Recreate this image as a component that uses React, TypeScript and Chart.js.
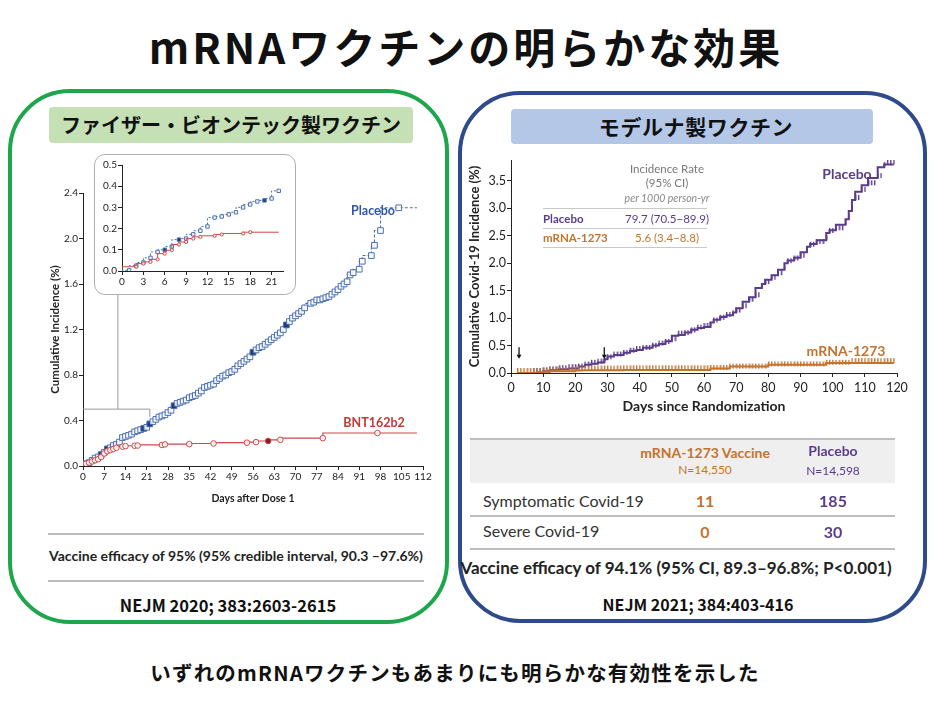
import React, { useEffect, useRef } from 'react';
import { Chart, registerables } from 'chart.js';
Chart.register(...registerables);

const FONT = 'Lato, "Noto Sans", sans-serif';
const JP = '"Noto Sans CJK JP", sans-serif';

// ---------- Pfizer/BioNTech (NEJM 2020) ----------
const pfizerPlacebo: [number, number][] = [
  [1, 0.02], [2, 0.03], [3, 0.05], [4, 0.07], [5, 0.08], [6, 0.10], [7, 0.12], [8, 0.15], [9, 0.16], [10, 0.18],
  [11, 0.19], [12, 0.21], [13, 0.25], [14, 0.26], [15, 0.27], [16, 0.28], [17, 0.30], [18, 0.31], [19, 0.32], [20, 0.33],
  [21, 0.34], [22, 0.37], [23, 0.39], [24, 0.41], [25, 0.43], [26, 0.44], [27, 0.45], [28, 0.47], [29, 0.49], [30, 0.53],
  [31, 0.55], [32, 0.56], [33, 0.57], [34, 0.58], [35, 0.60], [36, 0.61], [37, 0.62], [38, 0.64], [39, 0.66], [40, 0.69],
  [41, 0.70], [42, 0.71], [43, 0.72], [44, 0.75], [45, 0.77], [46, 0.79], [47, 0.80], [48, 0.82], [49, 0.83], [50, 0.85],
  [51, 0.88], [52, 0.90], [53, 0.92], [54, 0.94], [55, 0.96], [56, 1.00], [57, 1.02], [58, 1.04], [59, 1.05], [60, 1.07],
  [61, 1.09], [62, 1.11], [63, 1.13], [64, 1.15], [65, 1.17], [66, 1.20], [67, 1.24], [68, 1.27], [69, 1.30], [70, 1.32],
  [71, 1.34], [72, 1.36], [73, 1.39], [75, 1.43], [76, 1.44], [77, 1.46], [78, 1.46], [79, 1.47], [80, 1.48], [81, 1.49],
  [82, 1.51], [83, 1.53], [84, 1.55], [85, 1.58], [86, 1.60], [87, 1.62], [88, 1.68], [89, 1.70], [91, 1.73], [92, 1.80],
  [95, 1.85], [96, 1.94], [98, 2.07], [104, 2.27],
];
const pfizerVaccine: [number, number][] = [
  [1, 0.02], [2, 0.03], [3, 0.04], [4, 0.05], [5, 0.06], [6, 0.08], [7, 0.11], [8, 0.13], [9, 0.14], [10, 0.15],
  [11, 0.16], [13, 0.17], [14, 0.175], [17, 0.178], [18, 0.18], [26, 0.185], [27, 0.19], [35, 0.192], [43, 0.198],
  [54, 0.205], [57, 0.21], [61, 0.22], [65, 0.23], [79, 0.245], [97, 0.29],
];
const pfizerEndDay = 110;
const pfizerPlaceboSevere = [6, 8, 20, 22, 30, 56, 67];
const pfizerVaccineSevere = [61];

// inset: first 21 days
const insetPlacebo: [number, number][] = [
  [1, 0.003], [2, 0.025], [3, 0.04], [4, 0.062], [5, 0.09], [6, 0.10], [7, 0.115], [8, 0.148], [9, 0.153], [10, 0.173],
  [11, 0.19], [12, 0.21], [13, 0.252], [14, 0.257], [15, 0.267], [16, 0.277], [17, 0.30], [18, 0.314], [19, 0.328],
  [20, 0.333], [21, 0.342], [22, 0.378],
];
const insetVaccine: [number, number][] = [
  [2, 0.02], [3, 0.035], [4, 0.043], [5, 0.055], [6, 0.082], [7, 0.098], [8, 0.125], [9, 0.137], [10, 0.153],
  [11, 0.161], [13, 0.166], [14, 0.172], [17, 0.177], [18, 0.183],
];
const insetEndDay = 22;
const insetPlaceboSevere = [6, 8, 20];
const insetZoomDay = 22;
const insetZoomValue = 0.5;

// ---------- Moderna (NEJM 2021) ----------
const modernaPlacebo: [number, number][] = [
  [2, 0], [8, 0], [10, 0.01], [12, 0.03], [15, 0.05], [18, 0.07], [21, 0.08], [23, 0.12], [25, 0.15], [27, 0.17],
  [29, 0.19], [30, 0.25], [32, 0.30], [35, 0.33], [37, 0.37], [39, 0.40], [41, 0.42], [44, 0.46], [46, 0.50],
  [48, 0.53], [50, 0.58], [52, 0.68], [54, 0.69], [56, 0.74], [58, 0.79], [60, 0.82], [62, 0.84], [63, 0.92],
  [65, 0.97], [67, 1.02], [69, 1.05], [70, 1.10], [72, 1.18], [74, 1.30], [76, 1.38], [78, 1.55], [79, 1.62],
  [81, 1.70], [83, 1.78], [85, 1.88], [86, 2.00], [88, 2.05], [90, 2.10], [92, 2.20], [93, 2.30], [95, 2.35],
  [98, 2.42], [99, 2.55], [101, 2.60], [104, 2.70], [105, 2.80], [106, 2.95], [107, 3.15], [109, 3.30],
  [111, 3.42], [114, 3.55], [116, 3.75], [117, 3.80], [119, 3.80],
];
const modernaVaccine: [number, number][] = [
  [2, 0], [8, 0], [10, 0.01], [12, 0.02], [20, 0.03], [22, 0.045], [35, 0.05], [62, 0.055], [68, 0.08],
  [80, 0.12], [98, 0.15], [106, 0.18], [119, 0.18],
];
const modernaArrowDays = [2.5, 29];

const BLUE = '#4a6fb3';
const BLUE_DARK = '#1d3870';
const RED = '#d04848';
const RED_DARK = '#8a1c1c';
const PURPLE = '#5a3b8c';
const ORANGE = '#c4732f';

const toXY = (a: [number, number][]) => a.map(([x, y]) => ({ x, y }));

function stepAt(series: [number, number][], day: number) {
  let v = NaN;
  for (const [d, y] of series) if (d <= day) v = y;
  return v;
}
function censorPoints(series: [number, number][]) {
  const first = series[0][0];
  const last = series[series.length - 1][0];
  const out: { x: number; y: number }[] = [];
  for (let d = Math.ceil(first); d <= last; d += 1) out.push({ x: d, y: stepAt(series, d) });
  return out;
}
function tickImage(color: string) {
  const c = document.createElement('canvas');
  c.width = 3;
  c.height = 12;
  const g = c.getContext('2d')!;
  g.fillStyle = color;
  g.fillRect(1, 1, 1.4, 5);
  return c;
}

function axis(size: number) {
  return {
    grid: { drawOnChartArea: false, drawTicks: true, tickLength: 4, color: '#222', lineWidth: 1 },
    border: { color: '#222', width: 1 },
    ticks: { color: '#222', font: { family: FONT, size }, padding: 1, includeBounds: false, autoSkip: false, maxRotation: 0 },
  };
}

const T = ({ x, y, children, style }: any) => (
  <div
    style={{
      position: 'absolute', left: x, top: y, transform: 'translate(-50%, -50%)', whiteSpace: 'nowrap',
      fontFamily: FONT, lineHeight: 1, ...style,
    }}
  >
    {children}
  </div>
);

const Line = ({ x, y, w, color = '#bbb', h = 1.5 }: any) => (
  <div style={{ position: 'absolute', left: x, top: y, width: w, height: h, background: color }} />
);

export default function App() {
  const mainRef = useRef<HTMLCanvasElement>(null);
  const insetRef = useRef<HTMLCanvasElement>(null);
  const modRef = useRef<HTMLCanvasElement>(null);

  useEffect(() => {
    const charts: Chart[] = [];

    const bracketPlugin = {
      id: 'bracket',
      afterDatasetsDraw(chart: any) {
        const { ctx, scales: { x, y } } = chart;
        ctx.save();
        ctx.strokeStyle = '#9a9a9a';
        ctx.lineWidth = 1;
        ctx.beginPath();
        ctx.moveTo(x.getPixelForValue(0), y.getPixelForValue(insetZoomValue));
        ctx.lineTo(x.getPixelForValue(insetZoomDay), y.getPixelForValue(insetZoomValue));
        ctx.lineTo(x.getPixelForValue(insetZoomDay), y.getPixelForValue(0.43));
        ctx.moveTo(x.getPixelForValue(insetZoomDay / 2 + 0.5), y.getPixelForValue(insetZoomValue));
        ctx.lineTo(x.getPixelForValue(insetZoomDay / 2 + 0.5), y.getPixelForValue(1.7));
        ctx.stroke();
        ctx.restore();
      },
    };

    const markerOpts = (severe: number[], dark: string, color: string, r: number, style: string) => ({
      pointStyle: style,
      pointRadius: (c: any) => (c.raw && c.raw.end ? 0 : r),
      pointBorderColor: color,
      pointBorderWidth: 1,
      pointBackgroundColor: (c: any) => (c.raw && severe.includes(c.raw.x) ? dark : 'rgba(255,255,255,0.85)'),
    });

    const withEnds = (a: [number, number][], end: number | null) => {
      const pts: any[] = [{ x: 0, y: 0, end: true }, ...toXY(a)];
      if (end !== null) pts.push({ x: end, y: a[a.length - 1][1], end: true });
      return pts;
    };

    // ---- Left main chart ----
    charts.push(
      new Chart(mainRef.current!, {
        type: 'line',
        data: {
          datasets: [
            {
              label: 'BNT162b2',
              data: withEnds(pfizerVaccine, pfizerEndDay),
              stepped: 'after',
              borderColor: RED,
              borderWidth: 1.2,
              ...markerOpts(pfizerVaccineSevere, RED_DARK, RED, 2.8, 'circle'),
            } as any,
            {
              label: 'Placebo',
              data: withEnds(pfizerPlacebo, pfizerEndDay),
              stepped: 'after',
              borderColor: BLUE,
              borderDash: [3, 2],
              borderWidth: 1.1,
              ...markerOpts(pfizerPlaceboSevere, BLUE_DARK, BLUE, 4, 'rect'),
            } as any,
          ],
        },
        options: {
          responsive: false,
          animation: false,
          layout: { padding: { top: 8, right: 22, left: 0, bottom: 0 } },
          plugins: { legend: { display: false }, tooltip: { enabled: false } },
          scales: {
            x: {
              type: 'linear', min: 0, max: 112,
              ...axis(10),
              ticks: { ...axis(10).ticks, stepSize: 7 },
              title: { display: true, text: 'Days after Dose 1', color: '#222', font: { family: FONT, size: 10.5, weight: 'bold' }, padding: { top: 0, bottom: 5 } },
              afterFit: (s: any) => { s.height = 44; },
            },
            y: {
              type: 'linear', min: 0, max: 2.4,
              ...axis(10),
              ticks: { ...axis(10).ticks, stepSize: 0.4, callback: (v: any) => Number(v).toFixed(1) },
              title: { display: true, text: 'Cumulative Incidence (%)', color: '#222', font: { family: FONT, size: 11.5, weight: 'bold' }, padding: { top: 18, bottom: 0 } },
              afterFit: (s: any) => { s.width = 53; },
            },
          },
        } as any,
        plugins: [bracketPlugin],
      })
    );

    // ---- Inset chart ----
    charts.push(
      new Chart(insetRef.current!, {
        type: 'line',
        data: {
          datasets: [
            {
              data: withEnds(insetVaccine, insetEndDay),
              stepped: 'after',
              borderColor: RED,
              borderWidth: 1,
              ...markerOpts([], RED_DARK, RED, 1.6, 'circle'),
            } as any,
            {
              data: withEnds(insetPlacebo, null),
              stepped: 'after',
              borderColor: BLUE,
              borderDash: [2, 2],
              borderWidth: 1,
              ...markerOpts(insetPlaceboSevere, BLUE_DARK, BLUE, 2.4, 'rect'),
            } as any,
          ],
        },
        options: {
          responsive: false,
          animation: false,
          layout: { padding: { top: 8, right: 9, left: 0, bottom: 0 } },
          plugins: { legend: { display: false }, tooltip: { enabled: false } },
          scales: {
            x: {
              type: 'linear', min: 0, max: 22.6,
              ...axis(10),
              ticks: { ...axis(10).ticks, stepSize: 3 },
              afterFit: (s: any) => { s.height = 22; },
            },
            y: {
              type: 'linear', min: 0, max: 0.5,
              ...axis(10),
              ticks: { ...axis(10).ticks, stepSize: 0.1, callback: (v: any) => Number(v).toFixed(1) },
              afterFit: (s: any) => { s.width = 26; },
            },
          },
        } as any,
      })
    );

    // ---- Moderna chart ----
    const arrowPlugin = {
      id: 'arrows',
      afterDatasetsDraw(chart: any) {
        const { ctx, scales: { x, y } } = chart;
        ctx.save();
        ctx.strokeStyle = '#111';
        ctx.fillStyle = '#111';
        ctx.lineWidth = 1.3;
        for (const d of modernaArrowDays) {
          const px = x.getPixelForValue(d);
          const top = y.getPixelForValue(0.47);
          const bot = y.getPixelForValue(0.26);
          ctx.beginPath();
          ctx.moveTo(px, top);
          ctx.lineTo(px, bot - 3);
          ctx.stroke();
          ctx.beginPath();
          ctx.moveTo(px - 2.5, bot - 4);
          ctx.lineTo(px + 2.5, bot - 4);
          ctx.lineTo(px, bot);
          ctx.closePath();
          ctx.fill();
        }
        ctx.restore();
      },
    };

    charts.push(
      new Chart(modRef.current!, {
        type: 'line',
        data: {
          datasets: [
            {
              data: toXY(modernaVaccine),
              stepped: 'after',
              borderColor: ORANGE,
              borderWidth: 2,
              pointRadius: 0,
            } as any,
            {
              data: censorPoints(modernaVaccine),
              showLine: false,
              pointStyle: tickImage(ORANGE),
              pointRadius: 3,
            } as any,
            {
              data: toXY(modernaPlacebo),
              stepped: 'after',
              borderColor: PURPLE,
              borderWidth: 2,
              pointRadius: 0,
            } as any,
            {
              data: censorPoints(modernaPlacebo).filter((p) => p.x >= 7),
              showLine: false,
              pointStyle: tickImage(PURPLE),
              pointRadius: 3,
            } as any,
          ],
        },
        options: {
          responsive: false,
          animation: false,
          layout: { padding: { top: 10, right: 15, left: 0, bottom: 0 } },
          plugins: { legend: { display: false }, tooltip: { enabled: false } },
          scales: {
            x: {
              type: 'linear', min: 0, max: 120,
              ...axis(12.5),
              ticks: { ...axis(12.5).ticks, stepSize: 10, padding: 3 },
              title: { display: true, text: 'Days since Randomization', color: '#222', font: { family: FONT, size: 14, weight: 'bold' }, padding: { top: 0, bottom: 5 } },
              afterFit: (s: any) => { s.height = 47; },
            },
            y: {
              type: 'linear', min: 0, max: 3.88,
              ...axis(12.5),
              ticks: { ...axis(12.5).ticks, stepSize: 0.5, callback: (v: any) => Number(v).toFixed(1) },
              title: { display: true, text: 'Cumulative Covid-19 Incidence (%)', color: '#222', font: { family: FONT, size: 13, weight: 'bold' }, padding: { top: 5, bottom: 0 } },
              afterFit: (s: any) => { s.width = 49; },
            },
          },
        } as any,
        plugins: [arrowPlugin],
      })
    );

    return () => charts.forEach((c) => c.destroy());
  }, []);

  const jpBold = { fontFamily: JP, fontWeight: 700, color: '#111' };

  return (
    <div style={{ position: 'absolute', left: 0, top: 0, width: 936, height: 702, background: '#fff', overflow: 'hidden' }}>
      <T x={466} y={46} style={{ ...jpBold, fontSize: 42, letterSpacing: 3 }}>mRNAワクチンの明らかな効果</T>

      {/* panels */}
      <div style={{ position: 'absolute', left: 8, top: 89, width: 441, height: 535, boxSizing: 'border-box', border: '4px solid #1da64c', borderRadius: 62 }} />
      <div style={{ position: 'absolute', left: 458, top: 91, width: 469, height: 532, boxSizing: 'border-box', border: '4px solid #2e4a8a', borderRadius: 62 }} />

      <div style={{ position: 'absolute', left: 49, top: 107, width: 364, height: 36, background: '#c5e0b4', borderRadius: 4 }} />
      <T x={231} y={125} style={{ ...jpBold, fontSize: 20 }}>ファイザー・ビオンテック製ワクチン</T>
      <div style={{ position: 'absolute', left: 511, top: 109, width: 362, height: 35, background: '#b4c7e7', borderRadius: 4 }} />
      <T x={696} y={126} style={{ ...jpBold, fontSize: 21, letterSpacing: 0.6 }}>モデルナ製ワクチン</T>

      {/* left chart */}
      <canvas ref={mainRef} width={415} height={325} style={{ position: 'absolute', left: 30, top: 185, width: 415, height: 325 }} />
      <div style={{ position: 'absolute', left: 94, top: 154, width: 202, height: 141, boxSizing: 'border-box', border: '1.5px solid #b0b0b0', borderRadius: 11, background: '#fff' }} />
      <canvas ref={insetRef} width={196} height={136} style={{ position: 'absolute', left: 96, top: 157, width: 196, height: 136 }} />
      <T x={373} y={211} style={{ fontWeight: 700, fontSize: 12.5, color: '#2f58a6' }}>Placebo</T>
      <T x={374} y={423} style={{ fontWeight: 700, fontSize: 12.5, color: '#c23a36' }}>BNT162b2</T>

      <Line x={48} y={533} w={376} />
      <T x={236} y={556} style={{ fontWeight: 700, fontSize: 14, color: '#222' }}>Vaccine efficacy of 95% (95% credible interval, 90.3 –97.6%)</T>
      <Line x={48} y={580} w={376} />
      <T x={228} y={605} style={{ fontFamily: JP, fontWeight: 700, fontSize: 16.5, color: '#111' }}>NEJM 2020; 383:2603-2615</T>

      {/* right chart */}
      <canvas ref={modRef} width={450} height={270} style={{ position: 'absolute', left: 462, top: 150, width: 450, height: 270 }} />
      <T x={667} y={169} style={{ fontSize: 11.5, color: '#777' }}>Incidence Rate</T>
      <T x={667} y={183} style={{ fontSize: 11.5, color: '#777' }}>(95% CI)</T>
      <T x={667} y={198} style={{ fontSize: 10.5, color: '#888', fontStyle: 'italic' }}>per 1000 person-yr</T>
      <Line x={543} y={208} w={164} color="#c8c8c8" h={1.2} />
      <div style={{ position: 'absolute', left: 543, top: 212, fontFamily: FONT, fontWeight: 700, fontSize: 11.5, color: PURPLE, whiteSpace: 'nowrap' }}>Placebo</div>
      <T x={667} y={219} style={{ fontSize: 11.5, color: PURPLE }}>79.7 (70.5−89.9)</T>
      <Line x={543} y={228} w={164} color="#c8c8c8" h={1.2} />
      <div style={{ position: 'absolute', left: 543, top: 231, fontFamily: FONT, fontWeight: 700, fontSize: 11.5, color: ORANGE, whiteSpace: 'nowrap' }}>mRNA-1273</div>
      <T x={667} y={238} style={{ fontSize: 11.5, color: ORANGE }}>5.6 (3.4−8.8)</T>
      <Line x={543} y={247} w={164} color="#c8c8c8" h={1.2} />
      <T x={847} y={174} style={{ fontWeight: 700, fontSize: 14, color: PURPLE }}>Placebo</T>
      <T x={846} y={351} style={{ fontWeight: 700, fontSize: 14, color: ORANGE }}>mRNA-1273</T>

      {/* right table */}
      <div style={{ position: 'absolute', left: 470, top: 439, width: 425, height: 44, background: '#efefef' }} />
      <Line x={470} y={438} w={425} color="#bdbdbd" />
      <T x={705} y={453} style={{ fontWeight: 700, fontSize: 14, color: ORANGE }}>mRNA-1273 Vaccine</T>
      <T x={705} y={470} style={{ fontSize: 12, color: ORANGE }}>N=14,550</T>
      <T x={833} y={451} style={{ fontWeight: 700, fontSize: 14, color: PURPLE }}>Placebo</T>
      <T x={833} y={471} style={{ fontSize: 12, color: PURPLE }}>N=14,598</T>
      <div style={{ position: 'absolute', left: 483, top: 491, fontFamily: FONT, fontSize: 16, color: '#333', whiteSpace: 'nowrap' }}>Symptomatic Covid-19</div>
      <T x={705} y={501} style={{ fontWeight: 700, fontSize: 16, color: ORANGE }}>11</T>
      <T x={833} y={501} style={{ fontWeight: 700, fontSize: 16, color: PURPLE }}>185</T>
      <Line x={470} y={515} w={425} color="#bdbdbd" />
      <div style={{ position: 'absolute', left: 483, top: 521, fontFamily: FONT, fontSize: 16, color: '#333', whiteSpace: 'nowrap' }}>Severe Covid-19</div>
      <T x={705} y={532} style={{ fontWeight: 700, fontSize: 16, color: ORANGE }}>0</T>
      <T x={833} y={532} style={{ fontWeight: 700, fontSize: 16, color: PURPLE }}>30</T>
      <Line x={470} y={548} w={425} color="#bdbdbd" />
      <T x={676} y={567} style={{ fontWeight: 700, fontSize: 17, color: '#222' }}>Vaccine efficacy of 94.1% (95% CI, 89.3–96.8%; P&lt;0.001)</T>
      <T x={698} y={604} style={{ fontFamily: JP, fontWeight: 700, fontSize: 16, color: '#111' }}>NEJM 2021; 384:403-416</T>

      <T x={455} y={672} style={{ ...jpBold, fontSize: 20.5, letterSpacing: 1.2 }}>いずれのmRNAワクチンもあまりにも明らかな有効性を示した</T>
    </div>
  );
}
